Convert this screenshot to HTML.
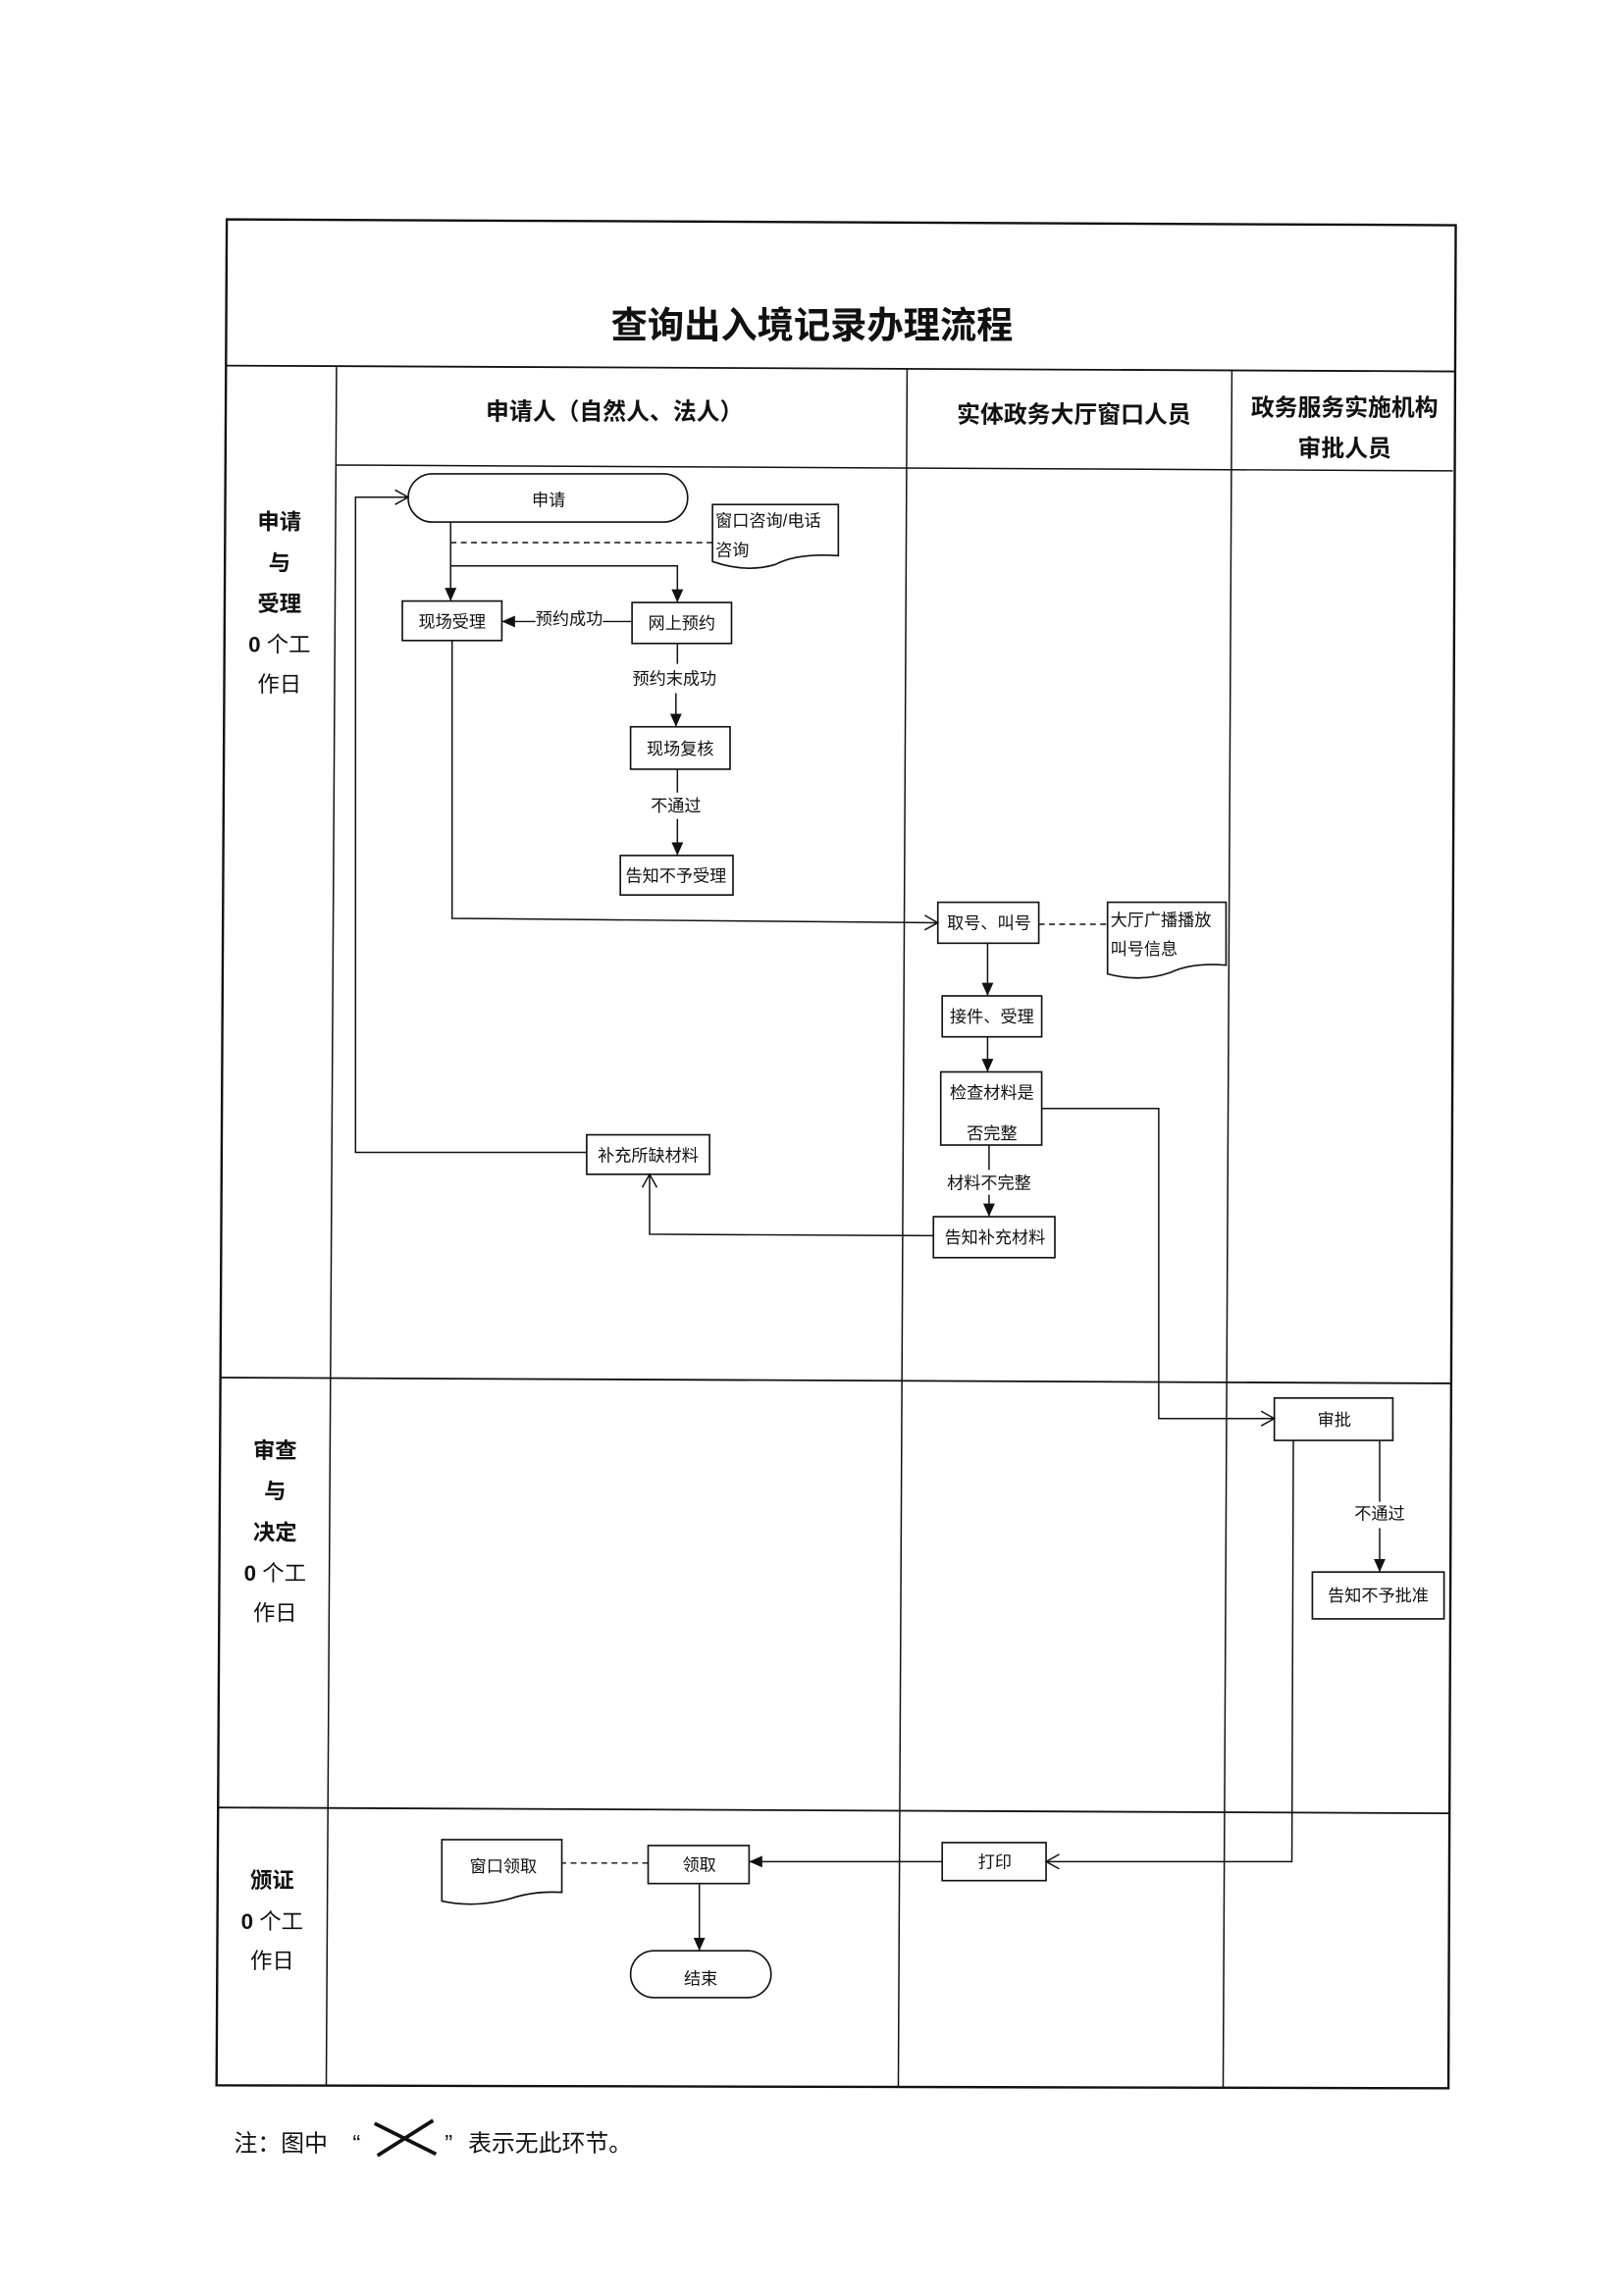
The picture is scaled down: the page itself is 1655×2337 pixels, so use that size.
<!DOCTYPE html>
<html><head><meta charset="utf-8"><style>
html,body{margin:0;padding:0;background:#fff;}
svg{display:block;}
text{font-family:"Liberation Sans","Noto Sans CJK SC",sans-serif;fill:#111;}
.b{font-weight:bold;}
</style></head><body>
<svg width="1655" height="2337" viewBox="0 0 1110 1568" preserveAspectRatio="none">
<defs>
<marker id="f" markerWidth="10" markerHeight="10" refX="9" refY="5" orient="auto" markerUnits="userSpaceOnUse"><path d="M0,1 L9,5 L0,9 Z" fill="#111"/></marker>
<marker id="o" markerWidth="12" markerHeight="12" refX="10" refY="6" orient="auto" markerUnits="userSpaceOnUse"><path d="M1,1 L10,6 L1,11" fill="none" stroke="#111" stroke-width="1"/></marker>
</defs>
<g stroke="#111" fill="none">
<path d="M155,150 L995,154 L990,1428 L148,1426 Z" stroke-width="1.6"/>
<line x1="155" y1="250" x2="994" y2="254" stroke-width="1.2"/>
<line x1="230" y1="251" x2="223" y2="1426" stroke-width="1"/>
<line x1="230" y1="318" x2="993" y2="322"/>
<line x1="620" y1="252" x2="614" y2="1427"/>
<line x1="842" y1="253" x2="836" y2="1427"/>
<line x1="151" y1="942" x2="992" y2="946" stroke-width="1.2"/>
<line x1="149" y1="1236" x2="990" y2="1240" stroke-width="1.2"/>
</g>
<text x="555" y="231" font-size="25" text-anchor="middle" class="b">查询出入境记录办理流程</text>
<g font-size="16" class="b" text-anchor="middle">
<text x="420" y="287">申请人（自然人、法人）</text>
<text x="734" y="289">实体政务大厅窗口人员</text>
<text x="919" y="284">政务服务实施机构</text>
<text x="919" y="312">审批人员</text>
</g>
<g font-size="15" text-anchor="middle">
<text x="191" y="362" class="b">申请</text><text x="191" y="390" class="b">与</text><text x="191" y="418" class="b">受理</text><text x="191" y="446"><tspan class="b">0</tspan> 个工</text><text x="191" y="473">作日</text>
<text x="188" y="997" class="b">审查</text><text x="188" y="1025" class="b">与</text><text x="188" y="1053" class="b">决定</text><text x="188" y="1081"><tspan class="b">0</tspan> 个工</text><text x="188" y="1108">作日</text>
<text x="186" y="1291" class="b">颁证</text><text x="186" y="1319"><tspan class="b">0</tspan> 个工</text><text x="186" y="1346">作日</text>
</g>
<g stroke="#111" fill="#fff" stroke-width="1.1">
<rect x="279" y="324" width="191" height="33" rx="16.5"/>
<path d="M487,345 L573,345 L573,380 Q545,378 530,386 Q510,392 487,384 Z"/>
<rect x="275" y="411" width="68" height="27"/>
<rect x="432" y="412" width="68" height="28"/>
<rect x="431" y="497" width="68" height="29"/>
<rect x="424" y="585" width="77" height="27"/>
<rect x="641" y="617" width="69" height="28"/>
<path d="M757,617 L838,617 L838,660 Q815,658 800,665 Q780,672 757,666 Z"/>
<rect x="644" y="681" width="68" height="28"/>
<rect x="643" y="733" width="69" height="50"/>
<rect x="638" y="832" width="83" height="28"/>
<rect x="401" y="776" width="84" height="27"/>
<rect x="871" y="956" width="81" height="29"/>
<rect x="897" y="1075" width="90" height="32"/>
<rect x="644" y="1260" width="71" height="26"/>
<rect x="443" y="1262" width="69" height="26"/>
<path d="M302,1258 L384,1258 L384,1294 Q365,1293 350,1298 Q325,1305 302,1300 Z"/>
<rect x="431" y="1334" width="96" height="32" rx="16"/>
</g>
<g stroke="#111" fill="none" stroke-width="1">
<line x1="308" y1="371" x2="487" y2="371" stroke-dasharray="4,3"/>
<line x1="308" y1="357" x2="308" y2="411" marker-end="url(#f)"/>
<polyline points="308,387 463,387 463,412" marker-end="url(#f)"/>
<line x1="432" y1="425" x2="412" y2="425"/>
<line x1="366" y1="425" x2="343" y2="425" marker-end="url(#f)"/>
<line x1="463" y1="440" x2="463" y2="454"/>
<line x1="462" y1="474" x2="462" y2="497" marker-end="url(#f)"/>
<line x1="463" y1="526" x2="463" y2="542"/>
<line x1="463" y1="560" x2="463" y2="585" marker-end="url(#f)"/>
<polyline points="309,438 309,628 641,631" marker-end="url(#o)"/>
<line x1="710" y1="632" x2="757" y2="632" stroke-dasharray="4,3"/>
<line x1="675" y1="645" x2="675" y2="681" marker-end="url(#f)"/>
<line x1="675" y1="709" x2="675" y2="733" marker-end="url(#f)"/>
<line x1="676" y1="783" x2="676" y2="800"/>
<line x1="676" y1="817" x2="676" y2="832" marker-end="url(#f)"/>
<polyline points="638,845 444,844 444,803" marker-end="url(#o)"/>
<polyline points="401,788 243,788 243,340 279,340" marker-end="url(#o)"/>
<polyline points="712,758 792,758 792,970 871,970" marker-end="url(#o)"/>
<line x1="943" y1="985" x2="943" y2="1027"/>
<line x1="943" y1="1045" x2="943" y2="1075" marker-end="url(#f)"/>
<polyline points="884,985 883,1273 715,1273" marker-end="url(#o)"/>
<line x1="644" y1="1273" x2="512" y2="1273" marker-end="url(#f)"/>
<line x1="443" y1="1274" x2="384" y2="1274" stroke-dasharray="4,3"/>
<line x1="478" y1="1288" x2="478" y2="1334" marker-end="url(#f)"/>
</g>
<g font-size="11.5" text-anchor="middle">
<text x="375" y="346">申请</text>
<text x="489" y="360" text-anchor="start">窗口咨询/电话</text>
<text x="489" y="380" text-anchor="start">咨询</text>
<text x="309" y="429">现场受理</text>
<text x="466" y="430">网上预约</text>
<text x="389" y="427">预约成功</text>
<text x="461" y="468">预约末成功</text>
<text x="465" y="516">现场复核</text>
<text x="462" y="555">不通过</text>
<text x="462" y="603">告知不予受理</text>
<text x="676" y="635">取号、叫号</text>
<text x="759" y="633" text-anchor="start">大厅广播播放</text>
<text x="759" y="653" text-anchor="start">叫号信息</text>
<text x="678" y="699">接件、受理</text>
<text x="678" y="751">检查材料是</text>
<text x="678" y="779">否完整</text>
<text x="676" y="813">材料不完整</text>
<text x="680" y="850">告知补充材料</text>
<text x="443" y="794">补充所缺材料</text>
<text x="912" y="975">审批</text>
<text x="943" y="1039">不通过</text>
<text x="942" y="1095">告知不予批准</text>
<text x="680" y="1277">打印</text>
<text x="478" y="1279">领取</text>
<text x="344" y="1280">窗口领取</text>
<text x="479" y="1357">结束</text>
</g>
<text x="160" y="1471" font-size="16">注：图中</text>
<text x="241" y="1471" font-size="16">“</text>
<g stroke="#111" stroke-width="2.5"><line x1="256" y1="1452" x2="298" y2="1473"/><line x1="258" y1="1474" x2="296" y2="1450"/></g>
<text x="304" y="1471" font-size="16">”</text>
<text x="320" y="1471" font-size="16">表示无此环节。</text>
</svg>
</body></html>
